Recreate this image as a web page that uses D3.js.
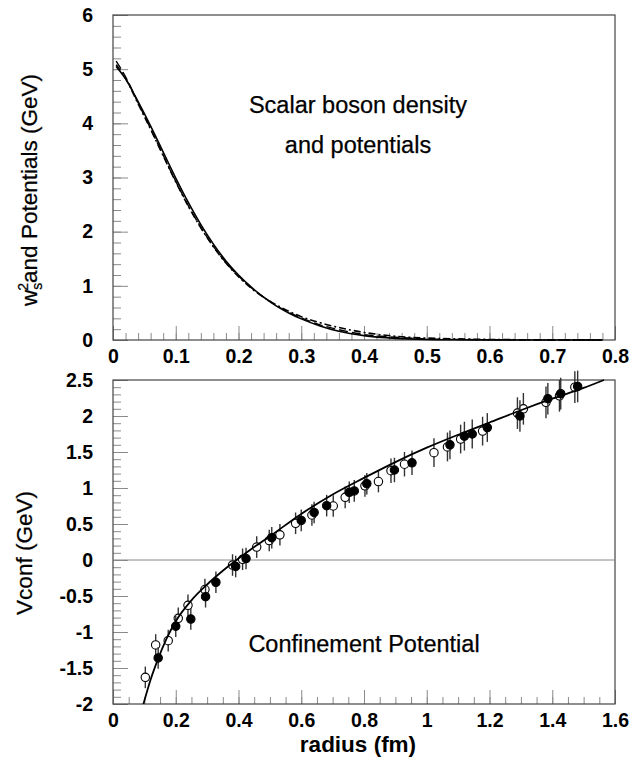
<!DOCTYPE html>
<html>
<head>
<meta charset="utf-8">
<script src="https://cdn.jsdelivr.net/npm/d3@7/dist/d3.min.js"></script>
<style>
  body { margin: 0; background: #fff; }
  text { font-family: "Liberation Sans", Arial, Helvetica, sans-serif; fill: #000; }
</style>
</head>
<body>
<div class="canvas"></div>
<script>
// ---- top panel: scalar boson density and potentials ----
const densR       = [0.005, 0.02, 0.04, 0.06, 0.08, 0.10, 0.12, 0.14, 0.16, 0.18, 0.20, 0.22, 0.24, 0.26, 0.28, 0.30, 0.33, 0.36, 0.40, 0.45, 0.50, 0.55, 0.60, 0.70, 0.78];
const densSolid   = [5.05, 4.82, 4.40, 3.95, 3.47, 2.99, 2.54, 2.13, 1.77, 1.46, 1.20, 0.98, 0.79, 0.63, 0.50, 0.39, 0.26, 0.16, 0.08, 0.03, 0.01, 0.004, 0.002, 0, 0];
const densDashed  = [5.15, 4.86, 4.38, 3.90, 3.41, 2.93, 2.48, 2.08, 1.73, 1.43, 1.18, 0.97, 0.79, 0.64, 0.51, 0.41, 0.28, 0.19, 0.10, 0.05, 0.02, 0.01, 0.005, 0.001, 0];
const densDashDot = [5.08, 4.83, 4.36, 3.89, 3.40, 2.92, 2.47, 2.07, 1.72, 1.42, 1.17, 0.96, 0.79, 0.65, 0.53, 0.43, 0.32, 0.23, 0.14, 0.07, 0.035, 0.02, 0.01, 0.003, 0.001];

const topXTicks = ['0', '0.1', '0.2', '0.3', '0.4', '0.5', '0.6', '0.7', '0.8'];
const topYTicks = ['0', '1', '2', '3', '4', '5', '6'];

// ---- bottom panel: confinement potential ----
const confR = [0.097, 0.12, 0.144, 0.17, 0.20, 0.25, 0.30, 0.35, 0.40, 0.45, 0.50, 0.60, 0.70, 0.80, 0.90, 1.00, 1.10, 1.20, 1.30, 1.40, 1.50, 1.565];
const confV = [-2.00, -1.66, -1.37, -1.10, -0.85, -0.56, -0.34, -0.15, 0.02, 0.18, 0.33, 0.64, 0.91, 1.14, 1.36, 1.56, 1.74, 1.91, 2.08, 2.24, 2.39, 2.50];

const openR   = [0.103, 0.136, 0.176, 0.208, 0.239, 0.293, 0.381, 0.413, 0.458, 0.498, 0.532, 0.582, 0.634, 0.702, 0.740, 0.803, 0.846, 0.886, 0.929, 1.023, 1.066, 1.108, 1.178, 1.289, 1.308, 1.380, 1.423, 1.472];
const openV   = [-1.63, -1.18, -1.12, -0.81, -0.63, -0.41, -0.07, 0.01, 0.18, 0.27, 0.35, 0.51, 0.625, 0.75, 0.87, 1.03, 1.09, 1.24, 1.33, 1.49, 1.57, 1.68, 1.79, 2.04, 2.10, 2.19, 2.28, 2.40];
const openErr = [0.15, 0.15, 0.15, 0.15, 0.15, 0.15, 0.15, 0.15, 0.15, 0.15, 0.15, 0.15, 0.15, 0.15, 0.15, 0.15, 0.15, 0.17, 0.17, 0.2, 0.2, 0.2, 0.2, 0.22, 0.22, 0.22, 0.22, 0.22];

const fillR   = [0.144, 0.200, 0.248, 0.295, 0.328, 0.391, 0.424, 0.506, 0.600, 0.641, 0.681, 0.753, 0.769, 0.809, 0.897, 0.953, 1.074, 1.120, 1.145, 1.193, 1.297, 1.386, 1.427, 1.481];
const fillV   = [-1.36, -0.92, -0.82, -0.51, -0.31, -0.09, 0.02, 0.31, 0.55, 0.66, 0.755, 0.94, 0.96, 1.06, 1.25, 1.35, 1.60, 1.72, 1.75, 1.84, 2.00, 2.24, 2.31, 2.41];
const fillErr = [0.15, 0.15, 0.15, 0.15, 0.15, 0.15, 0.15, 0.15, 0.15, 0.15, 0.15, 0.15, 0.15, 0.15, 0.17, 0.17, 0.2, 0.2, 0.2, 0.2, 0.22, 0.22, 0.22, 0.22];

const botXTicks = ['0', '0.2', '0.4', '0.6', '0.8', '1', '1.2', '1.4', '1.6'];
const botYTicks = ['-2', '-1.5', '-1', '-0.5', '0', '0.5', '1', '1.5', '2', '2.5'];

const svgWidth = 632;
const svgHeight = 769;
const left = 113, right = 615;

const svg = d3.select('.canvas')
  .append('svg')
    .attr('width', svgWidth)
    .attr('height', svgHeight);

svg.append('rect').attr('width', svgWidth).attr('height', svgHeight).attr('fill', '#fff');

// Scales:
const xTop = d3.scaleLinear().domain([0, 0.8]).range([left, right]);
const yTop = d3.scaleLinear().domain([0, 6]).range([340, 15]);
const xBot = d3.scaleLinear().domain([0, 1.6]).range([left, right]);
const yBot = d3.scaleLinear().domain([-2, 2.5]).range([704, 380]);

const fmt = d => `${+d.toFixed(2)}`;

// ROOT-style axes: ticks inside the frame, major + minor
const drawAxes = (x, y, xLabels, yLabels, xMinorStep, yMinorStep) => {
  const [x0, x1] = x.domain();
  const [y0, y1] = y.domain();
  const g = svg.append('g');

  const xMinor = d3.range(x0, x1 + 1e-9, xMinorStep);
  const yMinor = d3.range(y0, y1 + 1e-9, yMinorStep);

  g.append('g')
    .attr('transform', `translate(0, ${y.range()[0]})`)
    .call(d3.axisBottom(x).tickValues(xMinor).tickSize(-7).tickFormat(''));
  g.append('g')
    .attr('transform', `translate(0, ${y.range()[0]})`)
    .call(d3.axisBottom(x).tickValues(xLabels.map(Number)).tickSize(-14).tickPadding(9).tickFormat(fmt));

  g.append('g')
    .attr('transform', `translate(${left}, 0)`)
    .call(d3.axisLeft(y).tickValues(yMinor).tickSize(-8).tickFormat(''));
  g.append('g')
    .attr('transform', `translate(${left}, 0)`)
    .call(d3.axisLeft(y).tickValues(yLabels.map(Number)).tickSize(-15).tickPadding(20).tickFormat(fmt));

  g.selectAll('.domain').remove();
  g.selectAll('.tick line').attr('stroke', '#8a8a8a').attr('stroke-width', 1);
  g.selectAll('.tick text')
    .attr('font-size', 19.5)
    .attr('font-weight', 'bold')
    .attr('font-family', '"Liberation Sans", Arial, sans-serif')
    .attr('fill', '#000');

  svg.append('rect')
    .attr('x', left)
    .attr('y', y.range()[1])
    .attr('width', right - left)
    .attr('height', y.range()[0] - y.range()[1])
    .attr('fill', 'none')
    .attr('stroke', '#444')
    .attr('stroke-width', 1.2);
};

drawAxes(xTop, yTop, topXTicks, topYTicks, 0.02, 0.2);
drawAxes(xBot, yBot, botXTicks, botYTicks, 0.05, 0.1);

// Top curves:
const topLine = vals => d3.line()
  .x((d, i) => xTop(densR[i]))
  .y(d => yTop(d))
  .curve(d3.curveMonotoneX)(vals);

svg.append('path').attr('d', topLine(densDashDot))
  .attr('fill', 'none').attr('stroke', '#000').attr('stroke-width', 1.6)
  .attr('stroke-dasharray', '7,3,2,3');
svg.append('path').attr('d', topLine(densDashed))
  .attr('fill', 'none').attr('stroke', '#000').attr('stroke-width', 1.4)
  .attr('stroke-dasharray', '9,4');
svg.append('path').attr('d', topLine(densSolid))
  .attr('fill', 'none').attr('stroke', '#000').attr('stroke-width', 1.6);

// Bottom: zero line
svg.append('line')
  .attr('x1', left).attr('x2', right)
  .attr('y1', yBot(0)).attr('y2', yBot(0))
  .attr('stroke', '#888').attr('stroke-width', 1);

// Bottom: error bars and points
const drawPoints = (rs, vs, errs, filled) => {
  const g = svg.append('g');
  g.selectAll('line')
    .data(rs)
    .enter().append('line')
      .attr('x1', d => xBot(d)).attr('x2', d => xBot(d))
      .attr('y1', (d, i) => yBot(vs[i] + errs[i]))
      .attr('y2', (d, i) => yBot(vs[i] - errs[i]))
      .attr('stroke', '#333').attr('stroke-width', 1.4);
  g.selectAll('circle')
    .data(rs)
    .enter().append('circle')
      .attr('cx', d => xBot(d))
      .attr('cy', (d, i) => yBot(vs[i]))
      .attr('r', 4.2)
      .attr('fill', filled ? '#000' : '#fff')
      .attr('stroke', '#000').attr('stroke-width', 1.1);
};

drawPoints(openR, openV, openErr, false);
drawPoints(fillR, fillV, fillErr, true);

// Bottom curve:
const confLine = d3.line()
  .x((d, i) => xBot(confR[i]))
  .y(d => yBot(d))
  .curve(d3.curveMonotoneX);

svg.append('path').attr('d', confLine(confV))
  .attr('fill', 'none').attr('stroke', '#000').attr('stroke-width', 1.8);

// Texts:
const label = (x, y, str, size) => svg.append('text')
  .attr('x', x).attr('y', y)
  .attr('text-anchor', 'middle').attr('font-size', size)
  .attr('stroke', '#000').attr('stroke-width', 0.25)
  .text(str);

label(358, 113, 'Scalar boson density', 23.5);
label(358, 153, 'and potentials', 23.5);
label(364, 652, 'Confinement Potential', 23.5);

svg.append('text').attr('x', 358).attr('y', 752)
  .attr('text-anchor', 'middle').attr('font-size', 22.5).attr('font-weight', 'bold')
  .text('radius (fm)');

svg.append('text')
  .attr('transform', 'translate(32, 553) rotate(-90)')
  .attr('text-anchor', 'middle').attr('font-size', 22.5)
  .attr('stroke', '#000').attr('stroke-width', 0.25)
  .text('Vconf (GeV)');

const yTitle = svg.append('text')
  .attr('transform', 'translate(37, 190) rotate(-90)')
  .attr('text-anchor', 'middle').attr('font-size', 22.5)
  .attr('stroke', '#000').attr('stroke-width', 0.25);
yTitle.append('tspan').text('w');
yTitle.append('tspan').attr('font-size', 14).attr('dy', 5).text('s');
yTitle.append('tspan').attr('font-size', 14).attr('dx', -8).attr('dy', -14).text('2');
yTitle.append('tspan').attr('dy', 9).text('and Potentials (GeV)');
</script>
</body>
</html>
